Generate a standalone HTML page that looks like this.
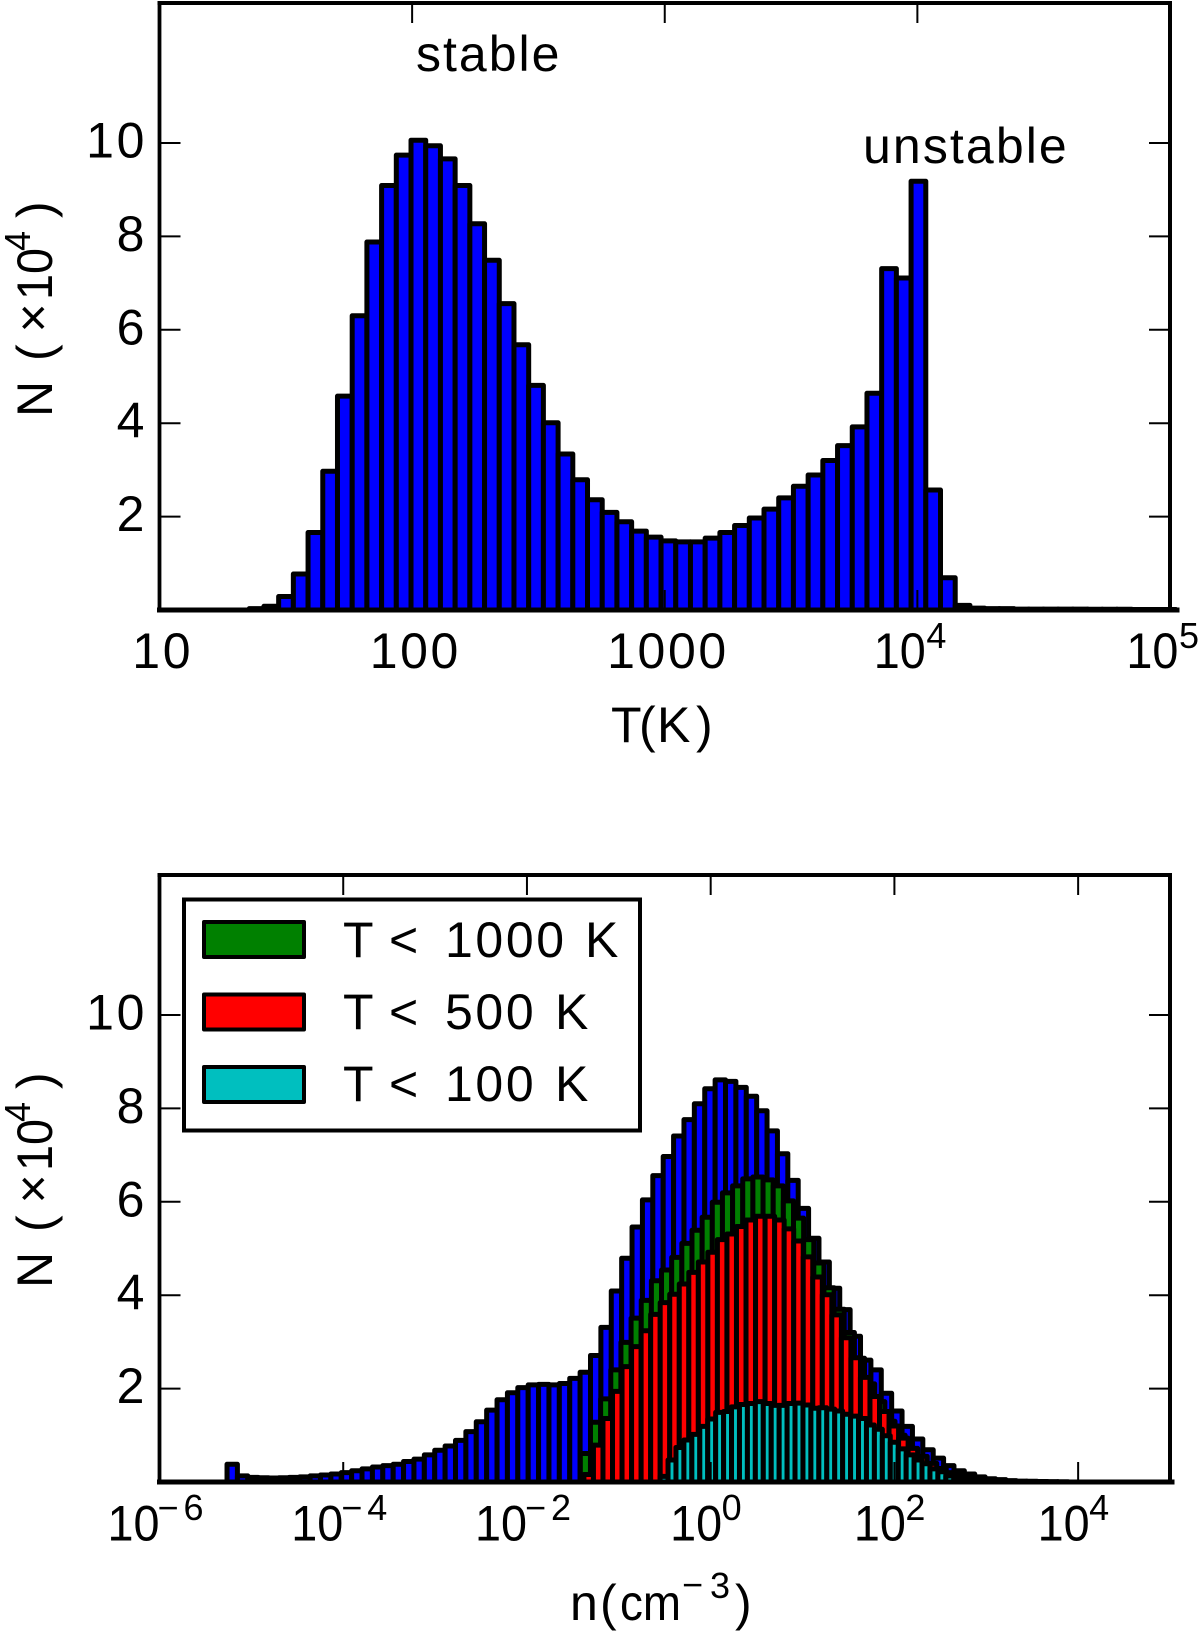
<!DOCTYPE html>
<html lang="en">
<head>
<meta charset="utf-8">
<title>Temperature and density histograms</title>
<style>
html,body{margin:0;padding:0;background:#fff;}
svg{display:block;}
text{font-family:"Liberation Sans",Arial,sans-serif;fill:#000;}
.lab{font-size:50px;}
.ls{font-size:50px;letter-spacing:2.6px;}
.sup{font-size:36px;}
</style>
</head>
<body>
<svg id="figure" xmlns="http://www.w3.org/2000/svg" width="1200" height="1632" viewBox="0 0 1200 1632">
  <rect x="0" y="0" width="1200" height="1632" fill="#fff"/>
  <g id="top-bars"></g>
  <g id="bottom-bars"></g>
  <g id="axes"></g>

  <text class="lab" x="416" y="71" style="letter-spacing:2px">stable</text>
  <text class="lab" x="863" y="163" style="letter-spacing:2.1px">unstable</text>

  <text class="lab" y="742"><tspan x="611">T</tspan><tspan x="639">(</tspan><tspan x="657">K</tspan><tspan x="696">)</tspan></text>

  <g>
    <text class="lab" y="1620"><tspan x="570">n</tspan><tspan x="600">(</tspan></text>
    <text class="lab" x="620" y="1620" textLength="61" lengthAdjust="spacingAndGlyphs">cm</text>
    <text class="sup" x="682" y="1597">&#8722;</text>
    <text class="sup" x="710" y="1598">3</text>
    <text class="lab" x="735" y="1620">)</text>
  </g>

  <g id="ylabel-top">
    <text class="lab" transform="translate(52,417) rotate(-90)">N</text>
    <text class="lab" transform="translate(52,361) rotate(-90)">(</text>
    <text class="lab" transform="translate(50,332.5) rotate(-90)">&#215;</text>
    <text class="lab" transform="translate(52,300) rotate(-90)" textLength="52" lengthAdjust="spacingAndGlyphs">10</text>
    <text class="sup" transform="translate(30,251) rotate(-90)">4</text>
    <text class="lab" transform="translate(52,218) rotate(-90)">)</text>
  </g>
  <g id="ylabel-bottom" transform="translate(0,871)">
    <text class="lab" transform="translate(52,417) rotate(-90)">N</text>
    <text class="lab" transform="translate(52,361) rotate(-90)">(</text>
    <text class="lab" transform="translate(50,332.5) rotate(-90)">&#215;</text>
    <text class="lab" transform="translate(52,300) rotate(-90)" textLength="52" lengthAdjust="spacingAndGlyphs">10</text>
    <text class="sup" transform="translate(30,251) rotate(-90)">4</text>
    <text class="lab" transform="translate(52,218) rotate(-90)">)</text>
  </g>

  <g id="legend">
    <rect x="184" y="899.5" width="456" height="231" fill="#fff" stroke="#000" stroke-width="4"/>
    <g>
      <rect x="204" y="922" width="100" height="35" fill="#008000" stroke="#000" stroke-width="4" stroke-linejoin="round"/>
      <text class="lab" y="957"><tspan x="343">T</tspan><tspan x="389">&lt;</tspan></text>
      <text class="ls" x="445" y="957">1000</text>
      <text class="lab" x="585" y="957">K</text>
    </g>
    <g>
      <rect x="204" y="994.5" width="100" height="35" fill="#ff0000" stroke="#000" stroke-width="4" stroke-linejoin="round"/>
      <text class="lab" y="1029"><tspan x="343">T</tspan><tspan x="389">&lt;</tspan></text>
      <text class="ls" x="445" y="1029">500</text>
      <text class="lab" x="555" y="1029">K</text>
    </g>
    <g>
      <rect x="204" y="1067" width="100" height="35" fill="#00bfbf" stroke="#000" stroke-width="4" stroke-linejoin="round"/>
      <text class="lab" y="1101"><tspan x="343">T</tspan><tspan x="389">&lt;</tspan></text>
      <text class="ls" x="445" y="1101">100</text>
      <text class="lab" x="555" y="1101">K</text>
    </g>
  </g>
</svg>

<script>
// ---------- data: temperature histogram (log10 T bins) ----------
var tempFirstEdge = 1.3552;
var tempBinWidth = 0.05822;
var tempCounts = [0.03,0.08,0.29,0.77,1.66,2.97,4.58,6.30,7.88,9.09,9.74,10.06,9.94,9.66,9.09,8.27,7.49,6.56,5.68,4.81,4.01,3.34,2.79,2.36,2.09,1.89,1.69,1.56,1.48,1.46,1.46,1.54,1.66,1.81,1.97,2.16,2.40,2.65,2.89,3.20,3.52,3.92,4.64,7.31,7.11,9.18,2.57,0.69,0.10,0.04,0.03,0.03,0.02,0.02,0.02,0.02,0.02,0.015,0.015,0.015,0.01,0.01,0.01];
var tempXTickLogs = [1,2,3,4,5];
var tempXTickLabels = ['10','100','1000','10^4','10^5'];

// ---------- data: density histograms (log10 n bins) ----------
var densAllFirstEdge = -5.265;
var densAllBinWidth = 0.11305;
var densAllCounts = [0.38,0.13,0.10,0.09,0.085,0.09,0.10,0.11,0.13,0.15,0.17,0.20,0.24,0.28,0.32,0.35,0.38,0.44,0.49,0.58,0.68,0.77,0.89,1.08,1.29,1.54,1.76,1.91,2.02,2.08,2.09,2.08,2.11,2.22,2.35,2.71,3.31,4.09,4.79,5.46,6.04,6.56,6.97,7.41,7.76,8.10,8.42,8.61,8.58,8.45,8.26,7.95,7.52,7.03,6.46,5.86,5.22,4.71,4.15,3.69,3.12,2.61,2.40,1.90,1.52,1.19,0.92,0.69,0.51,0.35,0.24,0.17,0.11,0.07,0.05,0.03,0.02,0.015,0.01,0.008,0.005];

var densT1000FirstEdge = -1.419;
var densT1000BinWidth = 0.1105;
var densT1000Counts = [0.61,1.28,1.78,2.40,2.99,3.51,3.89,4.31,4.54,4.81,5.11,5.39,5.67,5.99,6.19,6.34,6.49,6.53,6.47,6.34,6.02,5.65,5.19,4.69,4.16,3.70,3.20,2.65,2.10,1.72,1.30,1.00,0.72,0.50,0.35,0.22,0.14,0.09,0.05,0.03,0.02];

var densT500FirstEdge = -1.380;
var densT500BinWidth = 0.1038;
var densT500Counts = [0.16,0.79,1.36,1.94,2.47,2.90,3.24,3.59,3.84,4.02,4.24,4.49,4.71,4.92,5.19,5.31,5.47,5.61,5.69,5.69,5.61,5.42,5.16,4.82,4.39,4.01,3.58,3.09,2.66,2.24,1.83,1.51,1.20,0.94,0.72,0.55,0.40,0.29,0.20,0.14,0.09,0.06,0.04,0.02,0.015,0.01];

var densT100FirstEdge = -0.5506;
var densT100BinWidth = 0.0864;
var densT100Counts = [0.12,0.47,0.74,0.90,1.02,1.19,1.35,1.49,1.51,1.61,1.66,1.68,1.72,1.68,1.64,1.64,1.68,1.69,1.65,1.58,1.59,1.56,1.52,1.45,1.41,1.36,1.22,1.13,0.99,0.85,0.71,0.58,0.47,0.39,0.28,0.22,0.13,0.06,0.03,0.015];

var densXTickLogs = [-6,-4,-2,0,2,4];
var densXTickLabels = ['10^\u22126','10^\u22124','10^\u22122','10^0','10^2','10^4'];

var yTickValues = [2,4,6,8,10];
var yTickLabels = ['2','4','6','8','10'];

// ---------- axis functions ----------
var AX_LEFT = 159.5, AX_RIGHT = 1170;
var TOP_Y0 = 610, TOP_YTOP = 3, BOT_Y0 = 1482, BOT_YTOP = 875;
var UNIT = 46.7;
var BAR_STROKE = 5;
function xTemp(logT){ return AX_LEFT + (logT - 1) * (AX_RIGHT - AX_LEFT) / 4; }
function xDens(logN){ return AX_LEFT + (logN + 6) * (AX_RIGHT - AX_LEFT) / 11; }
function yTop(v){ return TOP_Y0 - v * UNIT; }
function yBot(v){ return BOT_Y0 - v * UNIT; }

var NS = 'http://www.w3.org/2000/svg';
function make(tag, parent){
  var el = document.createElementNS(NS, tag);
  parent.appendChild(el);
  return el;
}

function drawBars(parent, xf, yf, firstEdge, binWidth, counts, fill, barName){
  var seriesGroup = make('g', parent);
  
  
  for (var i = 0; i < counts.length; i++){
    var x0 = xf(firstEdge + i * binWidth);
    var x1 = xf(firstEdge + (i + 1) * binWidth);
    var y = yf(counts[i]);
    var r = make('rect', seriesGroup);
    
    
    r.setAttribute('x', x0);
    r.setAttribute('width', x1 - x0);
    r.setAttribute('y', y);
    r.setAttribute('height', yf(0) - y);
    r.setAttribute('fill', fill);
    r.setAttribute('stroke', '#000');
    r.setAttribute('stroke-width', BAR_STROKE);
    r.setAttribute('stroke-linejoin', 'round');
  }
}

function line(parent, x1, y1, x2, y2, w, name){
  var l = make('line', parent);
  
  
  l.setAttribute('x1', x1);
  l.setAttribute('y1', y1);
  l.setAttribute('x2', x2);
  l.setAttribute('y2', y2);
  l.setAttribute('stroke', '#000');
  l.setAttribute('stroke-width', w);
  l.setAttribute('stroke-linecap', 'square');
}

function drawYAxis(parent, yf){
  for (var i = 0; i < yTickValues.length; i++){
    var y = yf(yTickValues[i]);
    line(parent, AX_LEFT, y, AX_LEFT + 20, y, 2, 'y-tick-left');
    line(parent, AX_RIGHT - 20, y, AX_RIGHT, y, 2, 'y-tick-right');
    var t = make('text', parent);
    
    
    t.setAttribute('class', 'ls');
    t.setAttribute('x', 147);
    t.setAttribute('y', y + 14.5);
    t.setAttribute('text-anchor', 'end');
    t.textContent = yTickLabels[i];
  }
}

function drawFrame(parent, y0, yTopEdge, overshoot){
  line(parent, AX_LEFT, yTopEdge, AX_RIGHT, yTopEdge, 4, 'top-spine');
  line(parent, AX_LEFT, yTopEdge, AX_LEFT, y0, 3.8, 'left-spine');
  line(parent, AX_RIGHT, yTopEdge, AX_RIGHT, y0, 4, 'right-spine');
  line(parent, AX_LEFT, y0, AX_RIGHT + overshoot, y0, 5, 'bottom-spine');
}

function drawXLabel(parent, tickX, label, baseY, supY, posTenOffset, posSupOffset, plainOffset){
  var parts = label.split('^');
  if (parts.length === 1){
    var plain = make('text', parent);
    
    
    plain.setAttribute('class', 'ls');
    plain.setAttribute('x', tickX + plainOffset);
    plain.setAttribute('y', baseY);
    plain.setAttribute('text-anchor', 'middle');
    plain.textContent = parts[0];
    return;
  }
  var negative = parts[1].charAt(0) === '\u2212';
  var ten = make('text', parent);
  
  
  ten.setAttribute('class', 'lab');
  ten.setAttribute('x', tickX + (negative ? -52 : posTenOffset));
  ten.setAttribute('y', baseY);
  ten.setAttribute('textLength', '52');
  ten.setAttribute('lengthAdjust', 'spacingAndGlyphs');
  ten.textContent = parts[0];
  if (negative){
    var minus = make('text', parent);
    
    
    minus.setAttribute('class', 'sup');
    minus.setAttribute('x', tickX - 2);
    minus.setAttribute('y', supY);
    minus.textContent = '\u2212';
    var digit = make('text', parent);
    
    
    digit.setAttribute('class', 'sup');
    digit.setAttribute('x', tickX + 24);
    digit.setAttribute('y', supY);
    digit.textContent = parts[1].slice(1);
  } else {
    var sup = make('text', parent);
    
    
    sup.setAttribute('class', 'sup');
    sup.setAttribute('x', tickX + posSupOffset);
    sup.setAttribute('y', supY);
    sup.textContent = parts[1];
  }
}

// ---------- draw ----------
var topBars = document.getElementById('top-bars');
var bottomBars = document.getElementById('bottom-bars');
var axes = document.getElementById('axes');

drawBars(topBars, xTemp, yTop, tempFirstEdge, tempBinWidth, tempCounts, '#0000ff', 'temperature-bar');

drawBars(bottomBars, xDens, yBot, densAllFirstEdge, densAllBinWidth, densAllCounts, '#0000ff', 'density-bar-all');
drawBars(bottomBars, xDens, yBot, densT1000FirstEdge, densT1000BinWidth, densT1000Counts, '#008000', 'density-bar-t1000');
drawBars(bottomBars, xDens, yBot, densT500FirstEdge, densT500BinWidth, densT500Counts, '#ff0000', 'density-bar-t500');
drawBars(bottomBars, xDens, yBot, densT100FirstEdge, densT100BinWidth, densT100Counts, '#00bfbf', 'density-bar-t100');

drawFrame(axes, TOP_Y0, TOP_YTOP, 7);
drawFrame(axes, BOT_Y0, BOT_YTOP, 2);
drawYAxis(axes, yTop);
drawYAxis(axes, yBot);

for (var a = 0; a < tempXTickLogs.length; a++){
  var tx = xTemp(tempXTickLogs[a]);
  if (a > 0 && a < tempXTickLogs.length - 1){
    line(axes, tx, TOP_YTOP, tx, TOP_YTOP + 19, 2, 'x-tick-top');
    line(axes, tx, TOP_Y0 - 19, tx, TOP_Y0, 2, 'x-tick-bottom');
  }
  drawXLabel(axes, tx, tempXTickLabels[a], 668, 648, -43.6, 9, 3.2);
}
for (var b = 0; b < densXTickLogs.length; b++){
  var nx = xDens(densXTickLogs[b]);
  if (b > 0){
    line(axes, nx, BOT_YTOP, nx, BOT_YTOP + 19, 2, 'x-tick-top');
    line(axes, nx, BOT_Y0 - 19, nx, BOT_Y0, 2, 'x-tick-bottom');
  }
  drawXLabel(axes, nx, densXTickLabels[b], 1540.5, 1520, -40.5, 11, 3.2);
}
</script>
</body>
</html>
